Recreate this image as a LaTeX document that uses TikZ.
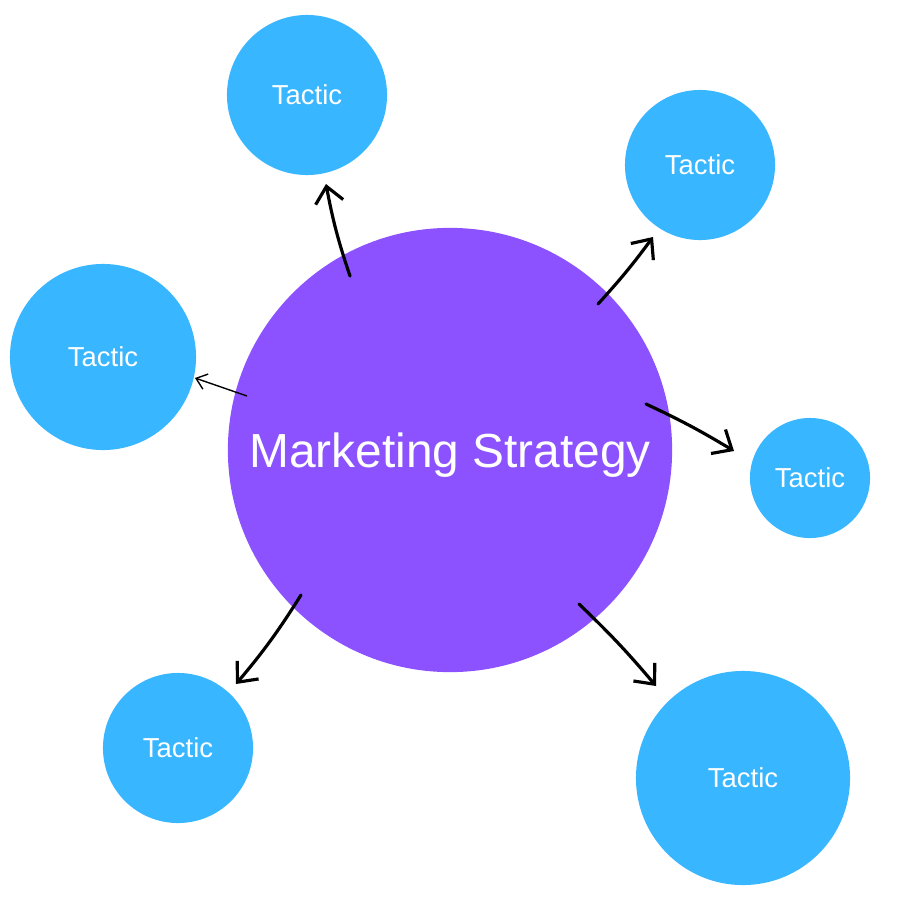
\documentclass[tikz,border=0pt]{standalone}
\usepackage{fontspec}
\setmainfont{Liberation Sans}
\usetikzlibrary{arrows.meta}
\definecolor{tacticblue}{HTML}{38B6FF}
\definecolor{strategypurple}{HTML}{8C52FF}
\tikzstyle{tactic}=[circle,fill=tacticblue,text=white,inner sep=0pt,font=\fontsize{7.8pt}{9pt}\selectfont]
\tikzstyle{strategy}=[circle,fill=strategypurple,text=white,inner sep=0pt,text depth=0pt,font=\fontsize{13.6pt}{16pt}\selectfont]
\tikzstyle{pointer}=[line width=0.9pt,line cap=round,-{Straight Barb[length=1.6mm,width=2.8mm,line width=0.9pt]}]

\begin{document}
\begin{tikzpicture}[x=0.01cm,y=-0.01cm]
        \useasboundingbox (0,0) rectangle (900,900);
        \node[strategy,minimum size=4.44cm] (strategy) at (450,450) {Marketing Strategy};

        \node[tactic,minimum size=1.6cm]  (top)         at (307,95)  {Tactic};
        \node[tactic,minimum size=1.5cm]  (topright)    at (700,165) {Tactic};
        \node[tactic,minimum size=1.86cm] (left)        at (103,357) {Tactic};
        \node[tactic,minimum size=1.2cm]  (right)       at (810,478) {Tactic};
        \node[tactic,minimum size=1.5cm]  (bottomleft)  at (178,748) {Tactic};
        \node[tactic,minimum size=2.14cm] (bottomright) at (743,778) {Tactic};

        % start and end points of the sketched arrows
        \coordinate (s1) at (350,276); \coordinate (e1) at (326,184);
        \coordinate (s2) at (598,304); \coordinate (e2) at (653,237);
        \coordinate (s3) at (247,396); \coordinate (e3) at (195,378);
        \coordinate (s4) at (646,404); \coordinate (e4) at (734,451);
        \coordinate (s5) at (301,595); \coordinate (e5) at (236,684);
        \coordinate (s6) at (579,604); \coordinate (e6) at (656,686);

	    \draw[pointer] (s1) to[bend left=4] (e1);
	    \draw[pointer] (s2) to[bend right=3] (e2);
	    \draw[line width=0.4pt,-{Straight Barb[length=1mm,width=1.6mm]}] (s3) -- (e3);
	    \draw[pointer] (s4) to[bend left=3] (e4);
	    \draw[pointer] (s5) to[bend left=4] (e5);
	    \draw[pointer] (s6) to[bend left=3] (e6);
\end{tikzpicture}
\end{document}
